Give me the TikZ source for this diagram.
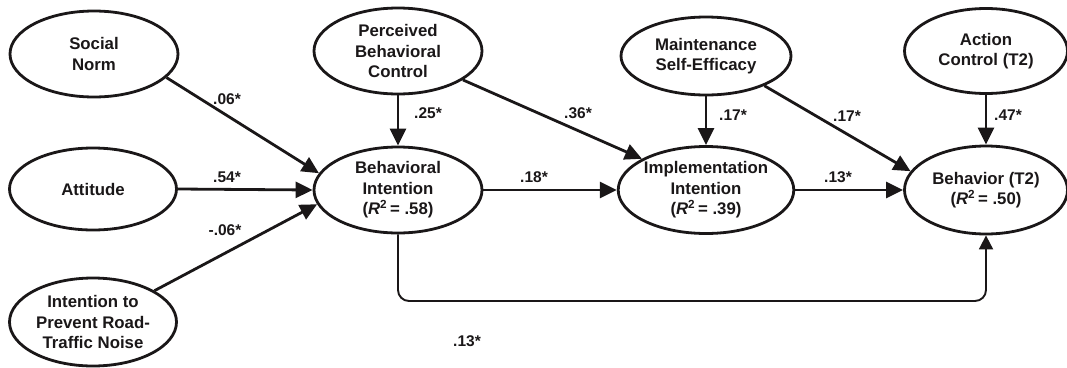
\documentclass[tikz,border=0pt]{standalone}
\usepackage{fontspec}
\setmainfont{Liberation Sans}
\usetikzlibrary{shapes.geometric,arrows.meta}
\definecolor{ink}{HTML}{1A1718}
\begin{document}
\begin{tikzpicture}[x=1pt,y=-1pt,
  lat/.style={ellipse,draw=ink,line width=2.8pt,inner sep=0pt,align=center,
    text=ink,font=\fontsize{16.8}{20.5}\selectfont\bfseries},
  path/.style={draw=ink,line width=2.8pt,-{Triangle[length=17pt,width=16pt]}},
  thinpath/.style={draw=ink,line width=1.9pt,rounded corners=11pt,-{Triangle[length=14pt,width=14pt]}},
  coef/.style={text=ink,inner sep=0pt,font=\fontsize{15.5}{18}\selectfont\bfseries}]
\useasboundingbox (0,0) rectangle (1067,367);
% latent variables
\node[lat,minimum width=168pt,minimum height=86pt] (sn) at (94,54) {Social\\Norm};
\node[lat,minimum width=167pt,minimum height=82pt] (att) at (93,189) {Attitude};
\node[lat,minimum width=167pt,minimum height=88pt] (ipn) at (93,322) {Intention to\\Prevent Road-\\Traffic Noise};
\node[lat,minimum width=168pt,minimum height=86pt] (pbc) at (398,51) {Perceived\\Behavioral\\Control};
\node[lat,minimum width=168pt,minimum height=86pt] (bi) at (398,190) {Behavioral\\Intention\\(\textit{R}\textsuperscript{2}\,= .58)};
\node[lat,minimum width=170pt,minimum height=78pt] (mse) at (706,56) {Maintenance\\Self-Efficacy};
\node[lat,minimum width=168pt,minimum height=87pt] (ii) at (706,190) {Implementation\\Intention\\(\textit{R}\textsuperscript{2}\,= .39)};
\node[lat,minimum width=163pt,minimum height=85pt] (ac) at (986,51) {Action\\Control (T2)};
\node[lat,minimum width=163pt,minimum height=88pt] (beh) at (986,190) {Behavior (T2)\\(\textit{R}\textsuperscript{2}\,= .50)};
% paths
\draw[path] (sn.-18) -- (bi.168);
\draw[path] (att.east) -- (bi.west);
\draw[path] (ipn.27) -- (bi.190);
\draw[path] (pbc.south) -- (bi.north);
\draw[path] (pbc.-24) -- (ii.154);
\draw[path] (bi.east) -- (ii.west);
\draw[path] (mse.south) -- (ii.north);
\draw[path] (mse.-27) -- (beh.166);
\draw[path] (ii.east) -- (beh.west);
\draw[path] (ac.south) -- (beh.north);
\coordinate (bl) at (398,301);
\draw[thinpath] (bi.south) -- (bl) -| (beh.south);
% coefficients
\node[coef] (c1) at (227,99) {.06*};
\node[coef] (c2) at (227,177) {.54*};
\node[coef] (c3) at (225,230) {-.06*};
\node[coef] (c4) at (428,113) {.25*};
\node[coef] (c5) at (578,113) {.36*};
\node[coef] (c6) at (534,177) {.18*};
\node[coef] (c7) at (733,115) {.17*};
\node[coef] (c8) at (847,116) {.17*};
\node[coef] (c9) at (838,177) {.13*};
\node[coef] (c10) at (1008,115) {.47*};
\node[coef] (c11) at (467,341) {.13*};
\end{tikzpicture}
\end{document}
